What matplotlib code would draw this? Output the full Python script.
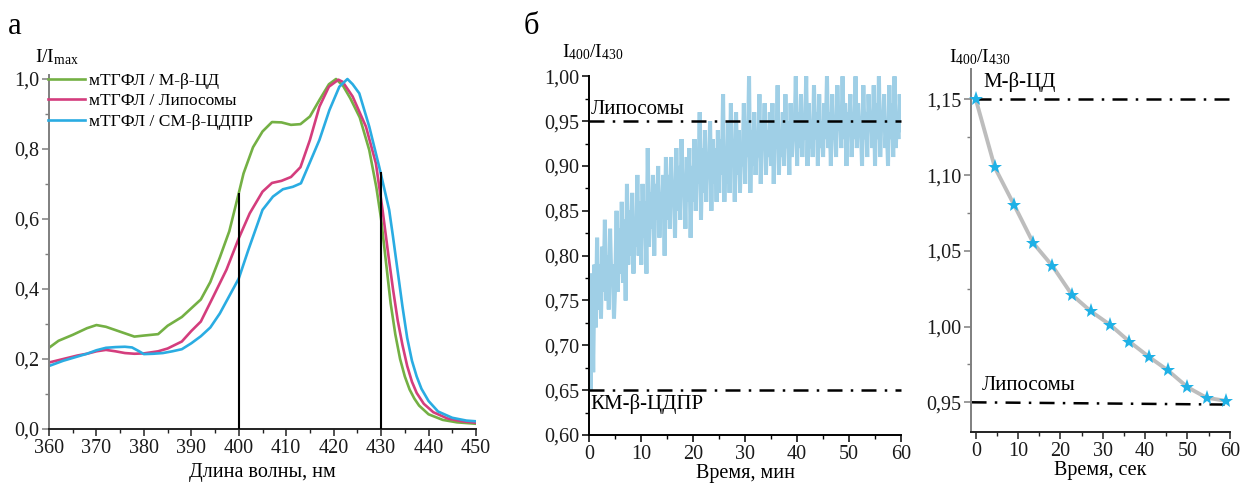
import matplotlib
matplotlib.use("Agg")
import matplotlib.pyplot as plt
from matplotlib.ticker import FuncFormatter, MultipleLocator

plt.rcParams['font.family'] = ['Liberation Serif', 'DejaVu Serif']
plt.rcParams['mathtext.default'] = 'regular'

# ---------------- Panel a: normalized spectra ----------------
wl_green = [360, 362, 365, 368, 370, 372, 375, 378, 380, 383, 385, 388, 390, 392, 394, 396, 398,
            400, 401, 403, 405, 407, 409, 411, 413, 415, 417, 419, 420.5, 422, 423.5, 425.5,
            427.5, 429, 430, 431, 432, 433, 434, 435, 436, 437, 438, 440, 443, 446, 450]
I_green = [0.232, 0.252, 0.269, 0.288, 0.297, 0.292, 0.278, 0.264, 0.267, 0.271, 0.295, 0.32,
           0.345, 0.37, 0.42, 0.49, 0.565, 0.674, 0.73, 0.805, 0.85, 0.877, 0.876, 0.869, 0.871,
           0.893, 0.94, 0.985, 1.0, 0.98, 0.945, 0.89, 0.797, 0.69, 0.60, 0.48, 0.36, 0.27, 0.2,
           0.15, 0.113, 0.087, 0.067, 0.042, 0.026, 0.019, 0.015]

wl_mag = [360, 363, 366, 368, 370, 372, 374, 376, 378, 380, 383, 385, 388, 390, 392, 394.5,
          397.4, 400, 402.3, 405, 407, 409, 411, 413, 415, 417, 419, 421, 421.9, 424, 426.8,
          428.9, 430.3, 431.5, 432.5, 433.5, 434.5, 435.5, 436.5, 437.5, 439, 441, 444, 447, 450]
I_mag = [0.19, 0.2, 0.21, 0.215, 0.222, 0.226, 0.222, 0.217, 0.215, 0.216, 0.222, 0.23, 0.25,
         0.28, 0.307, 0.375, 0.455, 0.545, 0.616, 0.678, 0.703, 0.709, 0.72, 0.748, 0.826, 0.921,
         0.978, 0.998, 0.992, 0.95, 0.864, 0.759, 0.626, 0.5, 0.4, 0.31, 0.24, 0.18, 0.135, 0.103,
         0.072, 0.048, 0.03, 0.022, 0.018]

wl_blue = [360, 363, 366, 368, 370, 372, 374, 376, 377.5, 379, 380, 382, 384, 386, 388, 390,
           392, 394, 396, 398, 400, 402, 405, 407.2, 409.3, 411.4, 413.1, 414.9, 417, 419.1,
           421.2, 422.9, 424, 425.4, 427.5, 429.6, 431.7, 432.5, 433.5, 434.5, 435.5, 436.5,
           437.5, 438.5, 440, 442, 445, 448, 450]
I_blue = [0.18, 0.195, 0.207, 0.215, 0.225, 0.232, 0.234, 0.235, 0.233, 0.222, 0.214, 0.215,
          0.217, 0.222, 0.228, 0.245, 0.265, 0.29, 0.33, 0.38, 0.43, 0.511, 0.626, 0.664, 0.685,
          0.692, 0.702, 0.759, 0.826, 0.911, 0.978, 1.0, 0.985, 0.959, 0.864, 0.749, 0.626, 0.55,
          0.45, 0.35, 0.26, 0.195, 0.15, 0.115, 0.08, 0.05, 0.032, 0.024, 0.022]

labels_a = ['мТГФЛ / М-β-ЦД', 'мТГФЛ / Липосомы', 'мТГФЛ / СМ-β-ЦДПР']
marker_wl = [400, 430]
marker_top = [0.674, 0.735]

# ---------------- Panel b (left): ratio vs time, min ----------------
t_min = [i * 0.25 for i in range(241)]
ratio_min = [
    0.74, 0.65, 0.78, 0.67, 0.79, 0.72, 0.82, 0.74, 0.79, 0.73, 0.81, 0.76, 0.84, 0.75, 0.80, 0.74, 0.83, 0.77, 0.79, 0.73,
    0.77, 0.85, 0.76, 0.83, 0.78, 0.86, 0.77, 0.84, 0.75, 0.88, 0.79, 0.85, 0.80, 0.87, 0.78, 0.84, 0.81, 0.89, 0.80, 0.86,
    0.79, 0.88, 0.82, 0.86, 0.78, 0.92, 0.81, 0.87, 0.83, 0.89, 0.80, 0.88, 0.84, 0.90, 0.82, 0.87, 0.85, 0.89, 0.80, 0.91,
    0.84, 0.89, 0.83, 0.91, 0.86, 0.88, 0.82, 0.92, 0.85, 0.90, 0.84, 0.93, 0.87, 0.89, 0.83, 0.91, 0.86, 0.92, 0.82, 0.90,
    0.86, 0.93, 0.85, 0.91, 0.88, 0.96, 0.84, 0.92, 0.87, 0.94, 0.86, 0.91, 0.89, 0.95, 0.85, 0.93, 0.88, 0.92, 0.86, 0.94,
    0.87, 0.93, 0.89, 0.98, 0.86, 0.92, 0.88, 0.95, 0.87, 0.97, 0.90, 0.93, 0.86, 0.96, 0.89, 0.94, 0.87, 0.92, 0.90, 0.97,
    0.88, 0.95, 0.91, 1.00, 0.87, 0.94, 0.90, 0.96, 0.89, 0.93, 0.91, 0.98, 0.88, 0.95, 0.92, 0.97, 0.89, 0.94, 0.91, 0.96,
    0.90, 0.97, 0.88, 0.95, 0.92, 0.99, 0.89, 0.94, 0.91, 0.96, 0.90, 0.98, 0.92, 0.95, 0.89, 0.97, 0.91, 0.94, 0.93, 1.00,
    0.90, 0.96, 0.92, 0.98, 0.91, 0.95, 0.93, 1.00, 0.90, 0.97, 0.92, 0.95, 0.91, 0.99, 0.93, 0.96, 0.90, 0.98, 0.92, 0.95,
    0.91, 0.97, 0.93, 1.00, 0.92, 0.96, 0.90, 0.98, 0.93, 0.95, 0.91, 0.99, 0.94, 0.96, 0.92, 1.00, 0.93, 0.97, 0.90, 0.96,
    0.94, 0.98, 0.91, 0.96, 0.93, 1.00, 0.92, 0.97, 0.94, 0.95, 0.90, 0.99, 0.93, 0.96, 0.91, 0.98, 0.94, 0.96, 0.92, 0.99,
    0.90, 0.97, 0.93, 1.00, 0.91, 0.96, 0.94, 0.98, 0.92, 0.95, 0.90, 0.99, 0.93, 0.97, 0.91, 1.00, 0.92, 0.96, 0.93, 0.98,
    0.94]
lipo_level = 0.95
kmcd_level = 0.65

# ---------------- Panel b (right): ratio vs time, s ----------------
t_sec = [0, 4.5, 9.1, 13.6, 18.1, 22.7, 27.2, 31.8, 36.3, 40.9, 45.4, 50.0, 54.5, 59.0]
ratio_sec = [1.15, 1.105, 1.08, 1.055, 1.04, 1.021, 1.010, 1.001, 0.990, 0.980, 0.971, 0.960,
             0.953, 0.951]
mcd_level = 1.15

# ---------------- figure ----------------
W, H = 1245, 486
fig = plt.figure(figsize=(W / 100, H / 100), dpi=100)

def rect(x0, x1, y_top, y_bot):
    return [x0 / W, (H - y_bot) / H, (x1 - x0) / W, (y_bot - y_top) / H]

def comma(dec):
    return FuncFormatter(lambda v, p: f"{v:.{dec}f}".replace('.', ','))

TICK = 14.5
LAB = 14.5
dash = (0, (6, 3.3, 1, 3.3))

def style(ax, left_color='black', bottom_color='black'):
    for s in ['top', 'right']:
        ax.spines[s].set_visible(False)
    ax.spines['left'].set_color(left_color)
    ax.spines['bottom'].set_color(bottom_color)
    ax.spines['left'].set_linewidth(1.4)
    ax.spines['bottom'].set_linewidth(1.4)
    ax.tick_params(which='major', direction='out', length=5, width=1.1, labelsize=TICK, pad=2)
    ax.tick_params(which='minor', direction='out', length=3, width=1.0)
    ax.tick_params(axis='y', which='both', colors=left_color, labelcolor='#1a1a1a')
    ax.tick_params(axis='x', which='both', colors=bottom_color, labelcolor='#1a1a1a')

# Panel a
ax1 = fig.add_axes(rect(49, 476, 75.5, 429))
c_green, c_mag, c_blue = '#74b044', '#d43d7d', '#2aace2'
ax1.plot(wl_green, I_green, color=c_green, lw=1.9, label=labels_a[0])
ax1.plot(wl_mag, I_mag, color=c_mag, lw=1.9, label=labels_a[1])
ax1.plot(wl_blue, I_blue, color=c_blue, lw=1.9, label=labels_a[2])
ax1.vlines(marker_wl, 0, marker_top, color='black', lw=1.5, zorder=5)
ax1.set_xlim(360, 450)
ax1.set_ylim(0, 1.01)
ax1.xaxis.set_major_locator(MultipleLocator(10))
ax1.xaxis.set_minor_locator(MultipleLocator(5))
ax1.yaxis.set_major_locator(MultipleLocator(0.2))
ax1.yaxis.set_minor_locator(MultipleLocator(0.1))
ax1.yaxis.set_major_formatter(comma(1))
style(ax1, left_color='#7f7f7f', bottom_color='#222222')
ax1.set_xlabel('Длина волны, нм', fontsize=LAB, labelpad=4)
leg = ax1.legend(loc='upper left', bbox_to_anchor=(-0.002, 1.008), frameon=False, fontsize=12.5,
                 handlelength=2.1, handletextpad=0.25, labelspacing=0.25, borderaxespad=0.0,
                 borderpad=0.0)
fig.text(35 / W, 1 - 62 / H, r'I/I$_{max}$', fontsize=14, ha='left', va='baseline')
fig.text(8 / W, 1 - 34 / H, 'а', fontsize=22, ha='left', va='baseline')

# Panel b left
ax2 = fig.add_axes(rect(589.3, 901, 76.3, 435))
ax2.plot(t_min, ratio_min, color='#9fcfe6', lw=2.9, solid_joinstyle='miter')
ax2.plot([0, 60], [lipo_level, lipo_level], color='black', lw=1.8, linestyle=dash, clip_on=False)
ax2.plot([0, 60], [kmcd_level, kmcd_level], color='black', lw=1.8, linestyle=dash, clip_on=False)
ax2.text(0.2, lipo_level + 0.002, 'Липосомы', fontsize=15, ha='left', va='bottom')
ax2.text(0.2, kmcd_level - 0.004, 'КМ-β-ЦДПР', fontsize=15, ha='left', va='top')
ax2.set_xlim(0, 60)
ax2.set_ylim(0.6, 1.0)
ax2.xaxis.set_major_locator(MultipleLocator(10))
ax2.xaxis.set_minor_locator(MultipleLocator(5))
ax2.yaxis.set_major_locator(MultipleLocator(0.05))
ax2.yaxis.set_minor_locator(MultipleLocator(0.025))
ax2.yaxis.set_major_formatter(comma(2))
style(ax2)
ax2.set_xlabel('Время, мин', fontsize=LAB, labelpad=0)
fig.text(562 / W, 1 - 57 / H, r'I$_{400}$/I$_{430}$', fontsize=14, ha='left', va='baseline')
fig.text(524 / W, 1 - 34 / H, 'б', fontsize=22, ha='left', va='baseline')

# Panel b right
ax3 = fig.add_axes(rect(970.7, 1229.8, 69, 432.3))
ax3.plot(t_sec, ratio_sec, color='#bdbdbd', lw=2.8, zorder=2)
ax3.plot(t_sec, ratio_sec, linestyle='none', marker='*', markersize=11, color='#1fb1e6',
         markeredgewidth=0, zorder=3, clip_on=False)
ax3.plot([0, 61.5], [mcd_level, mcd_level], color='black', lw=1.8, linestyle=dash, clip_on=False,
         zorder=1)
ax3.plot([-1, 59.5], [lipo_level, 0.9485], color='black', lw=1.8, linestyle=dash, clip_on=False,
         zorder=1)
ax3.text(1.8, 1.155, 'М-β-ЦД', fontsize=15, ha='left', va='bottom')
ax3.text(1.5, 0.955, 'Липосомы', fontsize=15, ha='left', va='bottom')
ax3.set_xlim(-1.2, 60)
ax3.set_ylim(0.9302, 1.17)
ax3.xaxis.set_major_locator(MultipleLocator(10))
ax3.xaxis.set_minor_locator(MultipleLocator(5))
ax3.set_yticks([0.95, 1.0, 1.05, 1.10, 1.15])
ax3.set_yticks([0.975, 1.025, 1.075, 1.125], minor=True)
ax3.yaxis.set_major_formatter(comma(2))
style(ax3, left_color='#7f7f7f', bottom_color='#222222')
ax3.set_xlabel('Время, сек', fontsize=LAB, labelpad=0)
fig.text(949 / W, 1 - 62 / H, r'I$_{400}$/I$_{430}$', fontsize=14, ha='left', va='baseline')

fig.savefig('out.png', dpi=100)
